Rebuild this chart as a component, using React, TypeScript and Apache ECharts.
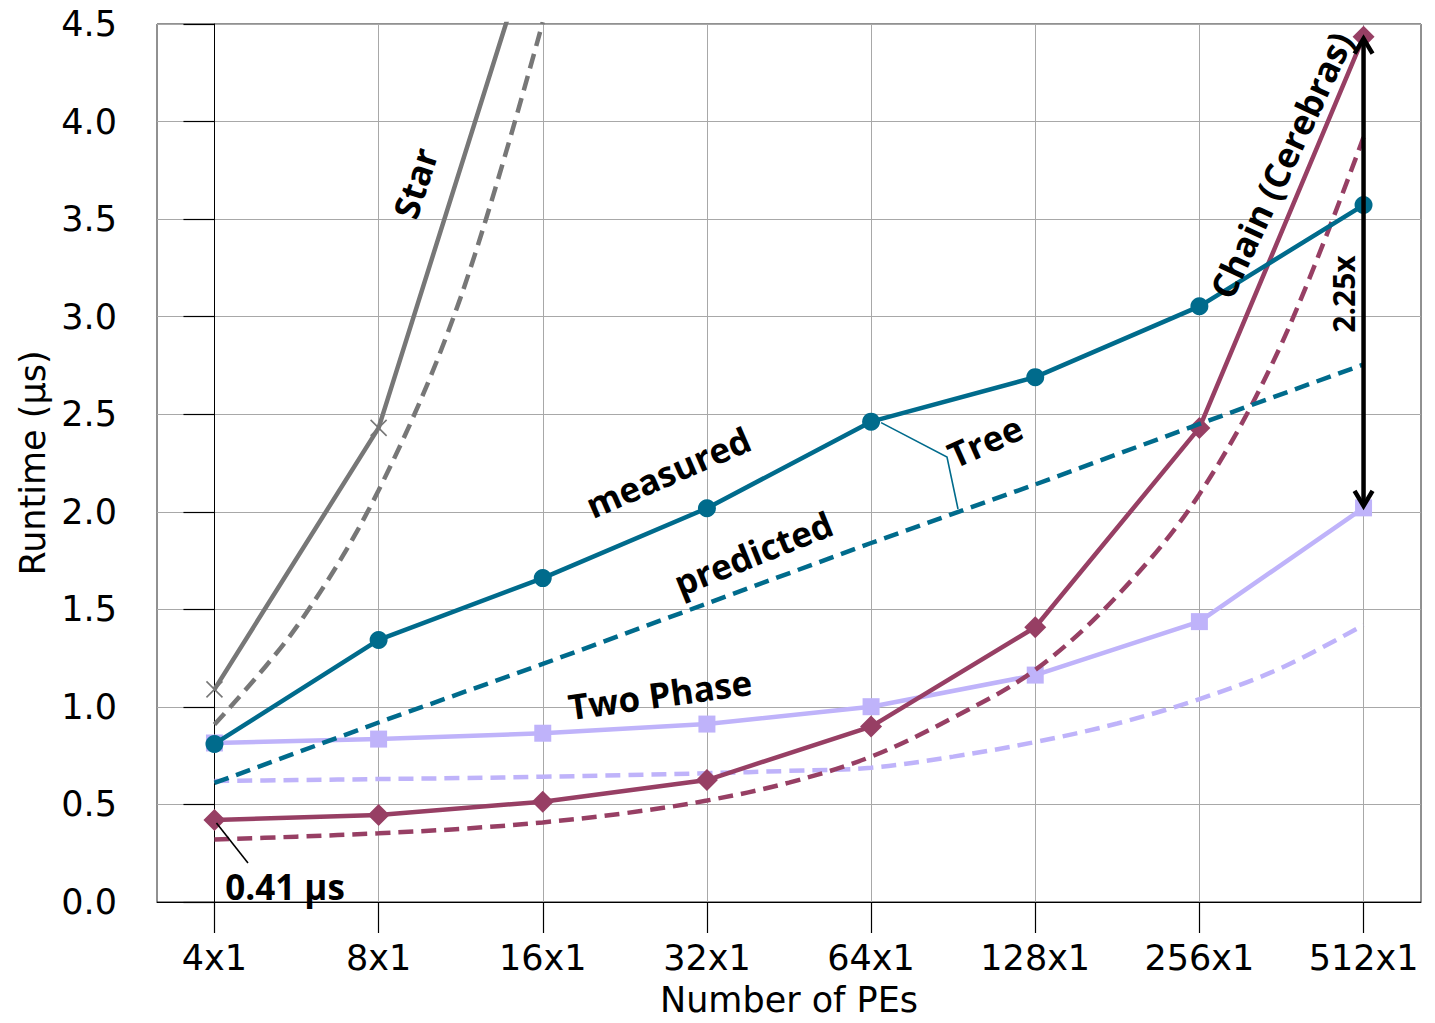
import React, { useEffect, useRef } from 'react';
import * as echarts from 'echarts';

// ---- data ----
const categories = ['4x1', '8x1', '16x1', '32x1', '64x1', '128x1', '256x1', '512x1'];
const catPositions = [0, 1, 2, 3, 4, 5, 6, 7];
// positions (category index) where the predicted curves were read
const halfPositions = [0, 0.5, 1, 1.5, 2, 2.5, 3, 3.5, 4, 4.5, 5, 5.5, 6, 6.5, 7];

const starMeasured = [1.09, 2.43, 5.1];
const starPredictedPos = [0, 0.5, 1, 1.5, 2];
const starPredicted = [0.91, 1.41, 2.11, 3.1, 4.51];

const treeMeasured = [0.81, 1.343, 1.66, 2.018, 2.462, 2.69, 3.053, 3.572];
const treePredicted = [0.61, 0.92, 1.22, 1.53, 1.84, 2.14, 2.45, 2.755];

const chainMeasured = [0.42, 0.446, 0.514, 0.625, 0.899, 1.408, 2.43, 4.435];
const chainPredicted = [0.32, 0.335, 0.352, 0.375, 0.408, 0.455, 0.52, 0.612, 0.745, 0.945, 1.19, 1.57, 2.09, 2.86, 3.92];

const twoPhaseMeasured = [0.815, 0.835, 0.865, 0.912, 1.001, 1.163, 1.437, 2.02];
const twoPhasePredicted = [0.62, 0.625, 0.63, 0.635, 0.642, 0.65, 0.66, 0.672, 0.688, 0.745, 0.82, 0.915, 1.04, 1.2, 1.42];

const yTicks = [0, 0.5, 1, 1.5, 2, 2.5, 3, 3.5, 4, 4.5];

const GRAY = '#777777';
const TEAL = '#006b8c';
const PLUM = '#973f64';
const LAV = '#bfb3fa';

const AXIS_FONT = 'DejaVu Sans';
const ANN_FONT = '"Open Sans", "Noto Sans", sans-serif';

const pairs = (xs: number[], ys: number[]) => ys.map((v, i) => [xs[i], v]);

export default function App() {
  const ref = useRef<HTMLDivElement>(null);

  useEffect(() => {
    const chart = echarts.init(ref.current!, null, { renderer: 'svg' });

    const solid = (name: string, color: string, data: number[][], symbol: string, size: number, z: number, extra: any = {}) => ({
      type: 'line',
      name,
      data,
      symbol,
      symbolSize: size,
      showSymbol: true,
      clip: true,
      z,
      lineStyle: { color, width: 4.5 },
      itemStyle: { color, ...extra },
      emphasis: { disabled: true },
    });
    const dashed = (name: string, color: string, data: number[][], z: number, smooth: number | boolean = 0.35) => ({
      type: 'line',
      name,
      data,
      symbol: 'none',
      showSymbol: false,
      smooth,
      clip: true,
      z,
      lineStyle: { color, width: 4.5, type: [15, 8] },
      emphasis: { disabled: true },
    });

    const axisText = { fontFamily: AXIS_FONT, fontSize: 35, color: '#000' };

    chart.setOption({
      animation: false,
      backgroundColor: '#ffffff',
      grid: { left: 157, right: 14, top: 24, bottom: 121, show: true, borderColor: '#222', borderWidth: 1, backgroundColor: 'transparent' },
      xAxis: {
        type: 'value',
        min: -0.35,
        max: 7.35,
        axisLine: { show: true, lineStyle: { color: '#000', width: 1 } },
        axisTick: { show: true, customValues: catPositions, length: 31, lineStyle: { color: '#000', width: 1.2 } },
        axisLabel: {
          customValues: catPositions,
          formatter: (v: number) => categories[Math.round(v)] ?? '',
          margin: 38,
          ...axisText,
        },
        splitLine: { show: true, lineStyle: { color: '#a8a8a8', width: 1 } },
        name: 'Number of PEs',
        nameLocation: 'middle',
        nameGap: 80,
        nameTextStyle: axisText,
      },
      yAxis: {
        type: 'value',
        min: yTicks[0],
        max: yTicks[yTicks.length - 1],
        interval: 0.5,
        axisLine: { show: true, lineStyle: { color: '#000', width: 1 } },
        axisTick: { show: true, length: 31, lineStyle: { color: '#000', width: 1.2 } },
        axisLabel: { formatter: (v: number) => v.toFixed(1), margin: 40, ...axisText },
        splitLine: { show: true, lineStyle: { color: '#a8a8a8', width: 1 } },
        name: 'Runtime (µs)',
        nameLocation: 'middle',
        nameGap: 104,
        nameTextStyle: axisText,
      },
      series: [
        dashed('Star predicted', GRAY, pairs(starPredictedPos, starPredicted), 2),
        solid('Star measured', GRAY, pairs(catPositions, starMeasured), 'path://M0,0L10,10M10,0L0,10', 16, 3, { borderColor: GRAY, borderWidth: 1.6 }),
        dashed('Two Phase predicted', LAV, pairs(halfPositions, twoPhasePredicted), 2),
        solid('Two Phase measured', LAV, pairs(catPositions, twoPhaseMeasured), 'rect', 17, 3),
        dashed('Chain predicted', PLUM, pairs(halfPositions, chainPredicted), 4),
        solid('Chain measured', PLUM, pairs(catPositions, chainMeasured), 'diamond', 22, 5),
        dashed('Tree predicted', TEAL, pairs(catPositions, treePredicted), 6, false),
        solid('Tree measured', TEAL, pairs(catPositions, treeMeasured), 'circle', 18, 7),
      ],
    });

    const px = (x: number, y: number) => chart.convertToPixel({ gridIndex: 0 }, [x, y]) as number[];
    const label = (text: string, x: number, y: number, deg: number, weight: any = 'bold', size = 35) => ({
      type: 'text',
      x,
      y,
      rotation: (deg * Math.PI) / 180,
      z: 100,
      style: { text, fontFamily: ANN_FONT, fontSize: size, fontWeight: weight, fontStyle: 'normal', fill: '#000', align: 'center', verticalAlign: 'middle' },
    });

    const arrowTop = px(7, chainMeasured[7]);
    const arrowBot = px(7, twoPhaseMeasured[7]);
    const ax = arrowTop[0];
    const t = arrowTop[1] + 2;
    const b = arrowBot[1] - 2;
    const tree64 = px(4, treeMeasured[4]);
    const chain4 = px(0, chainMeasured[0]);

    chart.setOption({
      graphic: [
        { type: 'line', z: 100, shape: { x1: ax, y1: t, x2: ax, y2: b }, style: { stroke: '#000', lineWidth: 4.5 } },
        { type: 'polyline', z: 100, shape: { points: [[ax - 9, t + 15], [ax, t], [ax + 9, t + 15]] }, style: { stroke: '#000', lineWidth: 4.5, fill: null, lineJoin: 'miter' } },
        { type: 'polyline', z: 100, shape: { points: [[ax - 9, b - 15], [ax, b], [ax + 9, b - 15]] }, style: { stroke: '#000', lineWidth: 4.5, fill: null, lineJoin: 'miter' } },
        { type: 'polyline', z: 100, shape: { points: [[tree64[0] + 10, tree64[1] + 1], [947, 457], [958, 509]] }, style: { stroke: TEAL, lineWidth: 1.6, fill: null } },
        { type: 'line', z: 100, shape: { x1: chain4[0] + 2, y1: chain4[1] + 3, x2: 248, y2: 863 }, style: { stroke: '#000', lineWidth: 1.6 } },
        label('Star', 415, 183, 72),
        label('measured', 668, 472, 23.5),
        label('predicted', 753, 553, 22),
        label('Tree', 985, 441, 24),
        label('Two Phase', 660, 694, 8),
        label('Chain (Cerebras)', 1281, 165, 65, 'bold'),
        label('2.25x', 1343, 294, 90, 'bold', 30),
        label('0.41 µs', 285, 886, 0),
      ],
    });

    return () => chart.dispose();
  }, []);

  return <div ref={ref} style={{ position: 'fixed', left: 0, top: 0, width: 1435, height: 1023 }} />;
}
